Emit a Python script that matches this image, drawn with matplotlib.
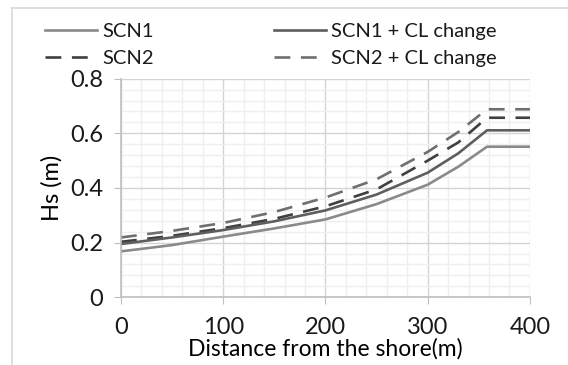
import numpy as np
import matplotlib.pyplot as plt
from matplotlib.ticker import MultipleLocator
from matplotlib.lines import Line2D

# distancia desde la orilla (m)
dist = [0, 50, 100, 150, 200, 250, 300, 330, 358, 400]

# altura de ola Hs (m)
scn1 = [0.168, 0.191, 0.222, 0.252, 0.285, 0.341, 0.412, 0.478, 0.551, 0.551]
scn1_cl = [0.195, 0.219, 0.246, 0.278, 0.318, 0.376, 0.456, 0.527, 0.611, 0.611]
scn2 = [0.203, 0.225, 0.253, 0.287, 0.333, 0.395, 0.500, 0.567, 0.657, 0.657]
scn2_cl = [0.219, 0.243, 0.272, 0.312, 0.365, 0.432, 0.532, 0.605, 0.688, 0.688]

plt.rcParams['font.family'] = ['Lato', 'DejaVu Sans']
plt.rcParams['text.color'] = '#1a1a1a'

fig = plt.figure(figsize=(5.68, 3.65), dpi=100)
ax = fig.add_axes([0.213, 0.1855, 0.72, 0.599])

lw = 1.9
ax.plot(dist, scn1, color='#8a8a8a', lw=lw, label='SCN1')
ax.plot(dist, scn2, color='#3f3f3f', lw=lw, dashes=(6, 4), label='SCN2')
ax.plot(dist, scn1_cl, color='#5e5e5e', lw=lw, label='SCN1 + CL change')
ax.plot(dist, scn2_cl, color='#6f6f6f', lw=lw, dashes=(6, 4), label='SCN2 + CL change')

ax.set_xlim(0, 400)
ax.set_ylim(0, 0.8)
ax.xaxis.set_major_locator(MultipleLocator(100))
ax.xaxis.set_minor_locator(MultipleLocator(20))
ax.yaxis.set_major_locator(MultipleLocator(0.2))
ax.yaxis.set_minor_locator(MultipleLocator(0.04))
ax.set_yticks([0, 0.2, 0.4, 0.6, 0.8], ['0', '0.2', '0.4', '0.6', '0.8'])

ax.grid(True, which='major', color='#d4d4d4', lw=1.0)
ax.grid(True, which='minor', color='#efefef', lw=1.0)
ax.set_axisbelow(True)

for s in ['top', 'right']:
    ax.spines[s].set_visible(False)
for s in ['left', 'bottom']:
    ax.spines[s].set_color('#bfbfbf')
    ax.spines[s].set_linewidth(1.2)

ax.tick_params(which='major', length=5, color='#bfbfbf', labelsize=17,
               labelcolor='#1a1a1a')
ax.tick_params(axis='x', which='major', pad=9)
ax.tick_params(axis='y', which='major', pad=8)
ax.tick_params(which='minor', length=0)

ax.set_xlabel('Distance from the shore(m)', fontsize=16.5, labelpad=0)
ax.set_ylabel('Hs (m)', fontsize=17, labelpad=5)

fig.legend(ncol=2, loc='upper left', bbox_to_anchor=(0.054, 0.975), frameon=False,
           fontsize=14.5, handlelength=2.6, handletextpad=0.25, columnspacing=5.95,
           labelspacing=0.5, borderaxespad=0.3)

# marco de la figura
fig.add_artist(Line2D([12 / 568, 12 / 568], [0, 1 - 8 / 365], color='#d9d9d9', lw=1.2))
fig.add_artist(Line2D([12 / 568, 1], [1 - 8 / 365, 1 - 8 / 365], color='#d9d9d9', lw=1.2))

fig.savefig('out.png', dpi=100)
